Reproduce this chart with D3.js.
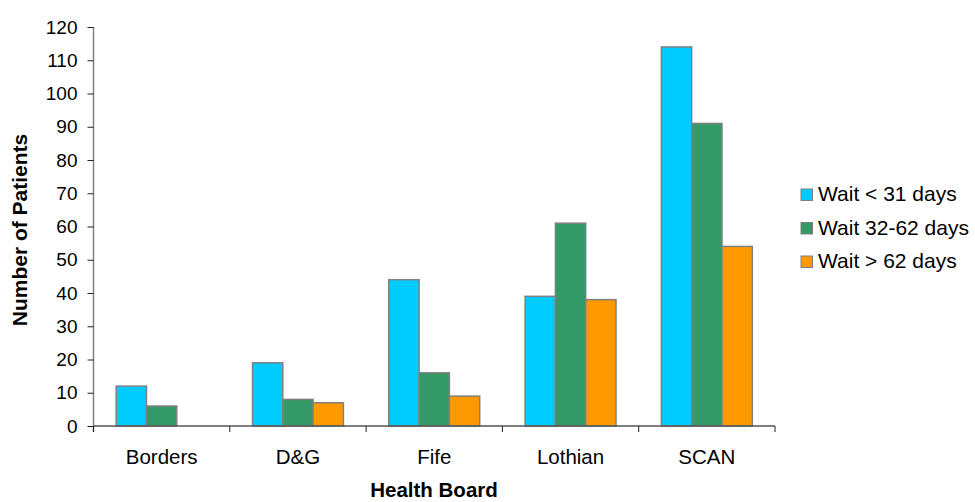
<!DOCTYPE html>
<html>
<head>
<meta charset="utf-8">
<script src="https://cdn.jsdelivr.net/npm/d3@7"></script>
<style>
  html, body { margin: 0; padding: 0; background: #fff; }
  svg { display: block; font-family: "Liberation Sans", Arial, sans-serif; }
</style>
</head>
<body>
<svg id="chart" width="975" height="502"></svg>
<script>
// Patients by health board and waiting-time band
const boards = ["Borders", "D&G", "Fife", "Lothian", "SCAN"];
const seriesNames = ["Wait < 31 days", "Wait 32-62 days", "Wait > 62 days"];
const waitUnder31 = [12, 19, 44, 39, 114];
const wait32to62 = [6, 8, 16, 61, 91];
const waitOver62 = [0, 7, 9, 38, 54];
const seriesColors = ["#00CCFF", "#339966", "#FF9900"];
const yTicks = [0, 10, 20, 30, 40, 50, 60, 70, 80, 90, 100, 110, 120];

const seriesValues = [waitUnder31, wait32to62, waitOver62];

const svg = d3.select("#chart");
const margin = { left: 93.5, top: 27 };
const plotW = 775 - margin.left;
const plotH = 426 - margin.top;

const g = svg.append("g").attr("transform", `translate(${margin.left},${margin.top})`);

const x = d3.scaleBand().domain(boards).range([0, plotW]).paddingInner(0).paddingOuter(0);
const barW = 30.3;
const groupW = barW * 3;
const y = d3.scaleLinear().domain([0, 120]).range([plotH, 0]);

// bars
seriesValues.forEach((vals, si) => {
  g.append("g")
    .selectAll("rect")
    .data(boards.map((b, i) => ({ board: b, value: vals[i] })))
    .join("rect")
    .filter(d => d.value > 0)
    .attr("x", d => x(d.board) + (x.bandwidth() - groupW) / 2 + si * barW)
    .attr("y", d => y(d.value))
    .attr("width", barW)
    .attr("height", d => y(0) - y(d.value))
    .attr("fill", seriesColors[si])
    .attr("stroke", "#808080")
    .attr("stroke-width", 1.5);
});

// y axis
const yAxis = g.append("g")
  .call(d3.axisLeft(y).tickValues(yTicks).tickSize(6).tickPadding(10).tickSizeOuter(0));
yAxis.select(".domain").attr("stroke", "#808080").attr("stroke-width", 1.5)
  .attr("d", `M0,0V${plotH + 6}`);
yAxis.selectAll(".tick line").attr("stroke", "#222");
yAxis.selectAll(".tick text").attr("font-size", 19).attr("fill", "#000")
  .attr("font-family", "Liberation Sans, Arial, sans-serif");

// x axis with ticks at category boundaries
const xAxisG = g.append("g").attr("transform", `translate(0,${plotH})`);
xAxisG.append("line").attr("x1", 0).attr("x2", plotW).attr("y1", 0).attr("y2", 0)
  .attr("stroke", "#555").attr("stroke-width", 1.5);
const boundaries = boards.map(b => x(b)).concat([plotW]);
xAxisG.selectAll("line.tk").data(boundaries).join("line").attr("class", "tk")
  .attr("x1", d => d).attr("x2", d => d).attr("y1", 0).attr("y2", 6)
  .attr("stroke", "#222");
xAxisG.selectAll("text").data(boards).join("text")
  .attr("x", d => x(d) + x.bandwidth() / 2)
  .attr("y", 38)
  .attr("text-anchor", "middle")
  .attr("font-size", 20.5)
  .text(d => d);

// axis titles
svg.append("text")
  .attr("x", 434)
  .attr("y", 497)
  .attr("text-anchor", "middle")
  .attr("font-size", 20.5)
  .attr("font-weight", "bold")
  .text("Health Board");

svg.append("text")
  .attr("transform", "translate(27,230) rotate(-90)")
  .attr("text-anchor", "middle")
  .attr("font-size", 21)
  .attr("font-weight", "bold")
  .text("Number of Patients");

// legend
const legend = svg.append("g").attr("transform", "translate(801,189)");
seriesNames.forEach((name, i) => {
  const row = legend.append("g").attr("transform", `translate(0,${i * 33.5})`);
  row.append("rect").attr("x", 0).attr("y", 0).attr("width", 11.5).attr("height", 11.5)
    .attr("fill", seriesColors[i]).attr("stroke", "#808080").attr("stroke-width", 1);
  row.append("text").attr("x", 17).attr("y", 12).attr("font-size", 21).text(name);
});
</script>
</body>
</html>
